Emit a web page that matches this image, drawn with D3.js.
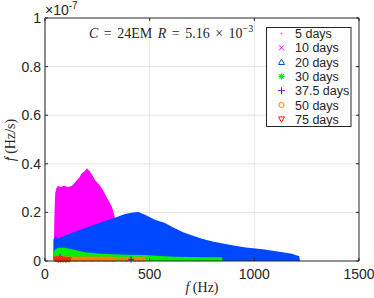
<!DOCTYPE html>
<html>
<head>
<meta charset="utf-8">
<script src="https://cdn.jsdelivr.net/npm/d3@7"></script>
<style>
  body { margin: 0; background: #fff; }
  text { font-family: "Liberation Sans", Arial, sans-serif; fill: #262626; }
  .tex { font-family: "Liberation Serif", "DejaVu Serif", serif; }
</style>
</head>
<body>
<div id="chart"></div>
<script>
// values in units of 1e-7 Hz/s (the axis multiplier)
const xTicks = [0, 500, 1000, 1500];
const yTicks = [0, 0.2, 0.4, 0.6, 0.8, 1];
const seriesNames = ["5 days", "10 days", "20 days", "30 days", "37.5 days", "50 days", "75 days"];
const seriesColors = ["#ff5f9e", "#ff00ff", "#0048ff", "#00f000", "#8000ff", "#ff8000", "#ff2a00"];

// 5 days: a few dots, mostly hidden at the bottom
const days5 = [[46, 0.012], [52, 0.02], [58, 0.01]];
// 10 days: upper envelope of the dense cloud [f, fdot]
const days10 = [[43, 0.09], [46, 0.22], [49, 0.28], [55, 0.30], [62, 0.31], [75, 0.305], [90, 0.31],
  [110, 0.305], [129, 0.31], [150, 0.33], [165, 0.345], [175, 0.36], [190, 0.37], [200, 0.382],
  [207, 0.375], [215, 0.368], [239, 0.333], [255, 0.318], [271, 0.30], [302, 0.251], [319, 0.224],
  [331, 0.189], [336, 0.17], [338, 0]];
// 20 days: upper envelope
const days20 = [[40, 0.088], [45, 0.095], [50, 0.102], [62, 0.092], [96, 0.105], [143, 0.12],
  [191, 0.136], [239, 0.15], [287, 0.165], [334, 0.178], [382, 0.193], [420, 0.2], [445, 0.202],
  [478, 0.19], [525, 0.17], [573, 0.156], [613, 0.138], [660, 0.118], [700, 0.106], [750, 0.092],
  [800, 0.08], [850, 0.072], [900, 0.064], [960, 0.056], [1040, 0.048], [1120, 0.038],
  [1180, 0.03], [1200, 0.024], [1215, 0.02], [1218, 0]];
// 30 days: upper envelope
const days30 = [[40, 0.035], [50, 0.048], [64, 0.055], [96, 0.055], [143, 0.045], [191, 0.036],
  [239, 0.032], [319, 0.028], [400, 0.026], [478, 0.025], [549, 0.021], [620, 0.018],
  [693, 0.016], [780, 0.015], [845, 0.015], [849, 0]];
// 37.5 days
const days37 = [[72, 0.016], [411, 0.006]];
// 50 days
const days50 = [[50, 0.008], [58, 0.007], [67, 0.009], [75, 0.008], [86, 0.007], [95, 0.008],
  [107, 0.009], [118, 0.007], [128, 0.008], [141, 0.008], [152, 0.007], [163, 0.009],
  [175, 0.008], [186, 0.007], [198, 0.008], [209, 0.009], [221, 0.007], [233, 0.008],
  [244, 0.008], [256, 0.007], [268, 0.009], [279, 0.008], [291, 0.007], [303, 0.008],
  [315, 0.008], [327, 0.007], [338, 0.008], [366, 0.008], [390, 0.007], [430, 0.008],
  [449, 0.007], [470, 0.008]];
// 75 days
const days75 = [[52, 0.006], [58, 0.009], [63, 0.004], [68, 0.007], [74, 0.005], [80, 0.008],
  [87, 0.005], [93, 0.007], [100, 0.004], [107, 0.006], [114, 0.005]];

const W = 374, H = 298;
const m = {left: 45, right: 15, top: 18, bottom: 37};

const svg = d3.select("#chart").append("svg")
  .attr("width", W)
  .attr("height", H);

const x = d3.scaleLinear().domain([0, 1500]).range([m.left, W - m.right]);
const y = d3.scaleLinear().domain([0, 1]).range([H - m.bottom, m.top]);

// grid
svg.append("g").selectAll("line").data(xTicks.slice(1, -1)).join("line")
  .attr("x1", d => x(d)).attr("x2", d => x(d))
  .attr("y1", y(0)).attr("y2", y(1))
  .attr("stroke", "#e6e6e6");
svg.append("g").selectAll("line").data(yTicks.slice(1, -1)).join("line")
  .attr("x1", x(0)).attr("x2", x(1500))
  .attr("y1", d => y(d)).attr("y2", d => y(d))
  .attr("stroke", "#e6e6e6");

const plot = svg.append("g");
const area = d3.area().x(d => x(d[0])).y0(y(0)).y1(d => y(d[1]));

plot.selectAll(".p5").data(days5).join("circle")
  .attr("cx", d => x(d[0])).attr("cy", d => y(d[1])).attr("r", 0.8)
  .attr("fill", seriesColors[0]);

plot.append("path").datum(days10).attr("d", area).attr("fill", seriesColors[1]);
plot.append("path").datum(days20).attr("d", area).attr("fill", seriesColors[2]);
plot.append("path").datum(days30).attr("d", area).attr("fill", seriesColors[3]);

plot.selectAll(".p50").data(days50).join("circle")
  .attr("cx", d => x(d[0])).attr("cy", d => y(d[1])).attr("r", 2.2)
  .attr("fill", seriesColors[5]).attr("stroke", seriesColors[5]).attr("stroke-width", 0.8);

plot.selectAll(".p37").data(days37).join("path")
  .attr("transform", d => `translate(${x(d[0])},${y(d[1])})`)
  .attr("d", "M-3,0H3M0,-3V3")
  .attr("stroke", seriesColors[4]).attr("stroke-width", 1.2).attr("fill", "none");

plot.selectAll(".p75").data(days75).join("path")
  .attr("transform", d => `translate(${x(d[0])},${y(d[1])})`)
  .attr("d", "M-2.6,-2L2.6,-2L0,2.5Z")
  .attr("stroke", seriesColors[6]).attr("stroke-width", 1).attr("fill", seriesColors[6]);

// axes box
const ax = svg.append("g").attr("fill", "none");
ax.append("line").attr("x1", x(0)).attr("x2", x(1500)).attr("y1", y(1)).attr("y2", y(1))
  .attr("stroke", "#262626");
ax.append("line").attr("x1", x(1500)).attr("x2", x(1500)).attr("y1", y(0)).attr("y2", y(1))
  .attr("stroke", "#262626");
ax.append("line").attr("x1", x(0)).attr("x2", x(1500)).attr("y1", y(0)).attr("y2", y(0))
  .attr("stroke", "#262626");
ax.append("line").attr("x1", x(0)).attr("x2", x(0)).attr("y1", y(0)).attr("y2", y(1))
  .attr("stroke", "#8a8a8a").attr("stroke-width", 2);

// ticks (inward)
ax.selectAll(".tx").data(xTicks).join("path")
  .attr("d", d => `M${x(d)},${y(0)}v-3M${x(d)},${y(1)}v3`)
  .attr("stroke", "#262626");
ax.selectAll(".ty").data(yTicks).join("path")
  .attr("d", d => `M${x(0)},${y(d)}h3M${x(1500)},${y(d)}h-3`)
  .attr("stroke", "#262626");

svg.append("g").selectAll("text").data(xTicks).join("text")
  .attr("x", d => x(d)).attr("y", y(0) + 18)
  .attr("text-anchor", "middle").attr("font-size", 14)
  .text(d => d);
svg.append("g").selectAll("text").data(yTicks).join("text")
  .attr("x", x(0) - 4).attr("y", d => y(d)).attr("dy", "0.36em")
  .attr("text-anchor", "end").attr("font-size", 14)
  .text(d => d);

// x10^-7 multiplier
const mult = svg.append("text").attr("x", x(0)).attr("y", 15).attr("font-size", 14);
mult.append("tspan").text("\u00d710");
mult.append("tspan").attr("dy", -6).attr("font-size", 10).text("-7");

// axis labels
const xl = svg.append("text").attr("class", "tex").attr("x", 202).attr("y", 292)
  .attr("text-anchor", "middle").attr("font-size", 14);
xl.append("tspan").attr("font-style", "italic").text("f");
xl.append("tspan").text(" (Hz)");

const ylg = svg.append("g").attr("transform", "translate(15,140) rotate(-90)");
const yl = ylg.append("text").attr("class", "tex").attr("font-size", 14);
yl.append("tspan").attr("font-style", "italic").text("f");
yl.append("tspan").text(" (Hz/s)");
const ylen = yl.node().getComputedTextLength();
yl.attr("x", -ylen / 2);
ylg.append("text").attr("class", "tex").attr("font-size", 14)
  .attr("x", -ylen / 2 + 1.5).attr("y", 1)
  .text("\u02d9");

// annotation
const ann = svg.append("text").attr("class", "tex").attr("x", 89).attr("y", 37.5)
  .attr("font-size", 14).attr("word-spacing", 2);
ann.append("tspan").attr("font-style", "italic").text("C");
ann.append("tspan").text(" = 24EM ");
ann.append("tspan").attr("font-style", "italic").text("R");
ann.append("tspan").text(" = 5.16 \u00d7 10");
ann.append("tspan").attr("dy", -6).attr("font-size", 10).text("\u22123");

// legend
const lg = svg.append("g");
lg.append("rect").attr("x", 266.5).attr("y", 27.5).attr("width", 84.5).attr("height", 99)
  .attr("fill", "#fff").attr("stroke", "#262626");
const rowY = i => 33.5 + i * 14.3;
const markers = [
  g => g.append("circle").attr("r", 0.9).attr("fill", seriesColors[0]),
  g => g.append("path").attr("d", "M-2.5,-2.5L2.5,2.5M-2.5,2.5L2.5,-2.5").attr("stroke", seriesColors[1]),
  g => g.append("path").attr("d", "M0,-3L3,2.4L-3,2.4Z").attr("stroke", seriesColors[2]).attr("fill", "none"),
  g => g.append("path").attr("d", "M-3,0H3M0,-3V3M-2.2,-2.2L2.2,2.2M-2.2,2.2L2.2,-2.2").attr("stroke", seriesColors[3]).attr("stroke-width", 1.2),
  g => g.append("path").attr("d", "M-3.5,0H3.5M0,-3.5V3.5").attr("stroke", seriesColors[4]),
  g => g.append("circle").attr("r", 2.6).attr("stroke", seriesColors[5]).attr("fill", "none"),
  g => g.append("path").attr("d", "M0,3L3,-2.4L-3,-2.4Z").attr("stroke", seriesColors[6]).attr("fill", "none")
];
seriesNames.forEach((name, i) => {
  const row = lg.append("g").attr("transform", `translate(281.5,${rowY(i)})`);
  markers[i](row);
  lg.append("text").attr("x", 295).attr("y", rowY(i)).attr("dy", "0.36em")
    .attr("font-size", 12.5).text(name);
});
</script>
</body>
</html>
